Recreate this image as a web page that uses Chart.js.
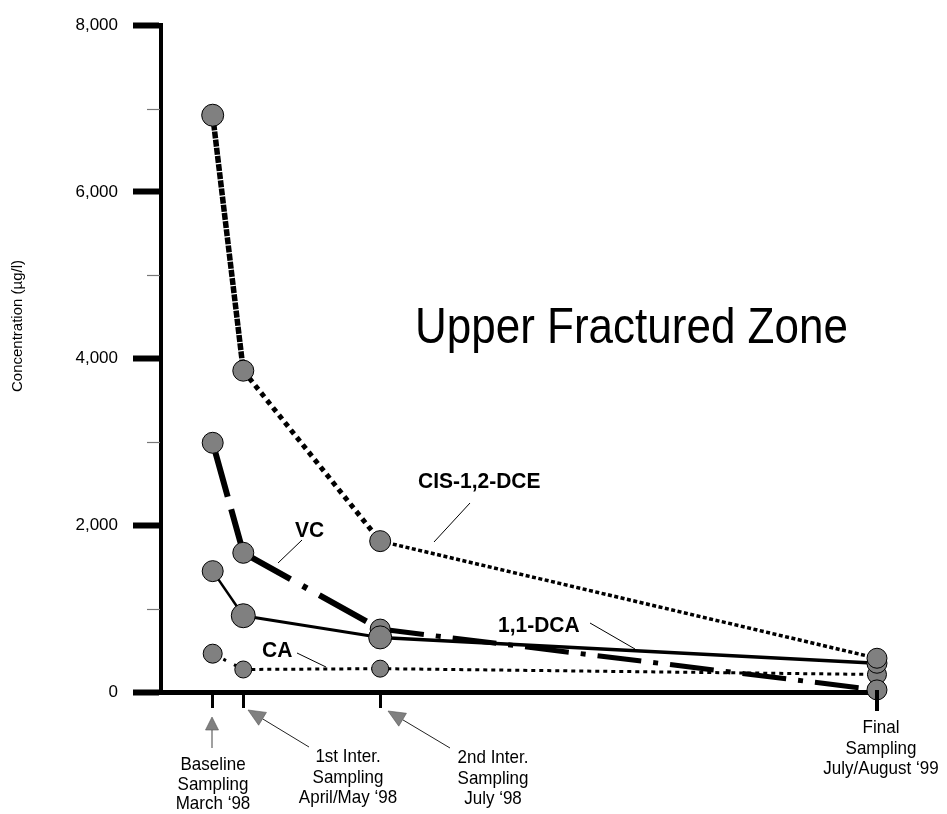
<!DOCTYPE html>
<html>
<head>
<meta charset="utf-8">
<script src="https://cdn.jsdelivr.net/npm/chart.js@4.4.1/dist/chart.umd.min.js"></script>
<style>
  html, body { margin: 0; padding: 0; background: #ffffff; }
  #wrap { width: 947px; height: 814px; position: relative; }
</style>
</head>
<body>
<div id="wrap"><canvas id="c" width="947" height="814"></canvas></div>
<script>
// ---- data ----
const samplingMonths = [2.5, 3.26, 6.66, 19.0];          // months after 1 Jan 1998
const samplingLabels = [
  ['Baseline', 'Sampling', 'March \u201898'],
  ['1st Inter.', 'Sampling', 'April/May \u201898'],
  ['2nd Inter.', 'Sampling', 'July \u201898'],
  ['Final', 'Sampling', 'July/August \u201899']
];
const seriesNames = ['CIS-1,2-DCE', 'VC', '1,1-DCA', 'CA'];
const cisDCE = [6920, 3855, 1810, 405];
const vc     = [2990, 1670, 755, 25];
const dca    = [1450, 915, 655, 345];
const ca     = [460, 270, 280, 210];
const yTickValues = [0, 2000, 4000, 6000, 8000];
const yTickLabels = ['0', '2,000', '4,000', '6,000', '8,000'];
const yMinorTicks = [1000, 3000, 5000, 7000];
const chartTitle = 'Upper Fractured Zone';
const yAxisTitle = 'Concentration (\u00b5g/l)';

const FONT = "'Liberation Sans', Arial, Helvetica, sans-serif";
Chart.defaults.font.family = FONT;

const pts = (vals) => samplingMonths.map((m, i) => ({ x: m, y: vals[i] }));
const MARK = '#808080';

const cisSeg = {
  borderDash: c => [[7, 1.2], [5, 4.5], [4, 2.5]][c.p0DataIndex],
  borderWidth: c => [5.5, 5, 3.5][c.p0DataIndex]
};
const vcSeg = {
  borderDash: c => [[56, 13], [54, 14, 5, 14], [44, 12, 5, 12]][c.p0DataIndex],
  borderWidth: c => [6, 6, 5][c.p0DataIndex]
};
const dcaSeg = {
  borderWidth: c => [2.5, 3, 3.5][c.p0DataIndex]
};
const caSeg = {
  borderDash: c => [[3, 9], [4, 4], [4, 4]][c.p0DataIndex],
  borderWidth: c => 3
};

const datasets = [
  { label: seriesNames[0], data: pts(cisDCE), borderColor: '#000', borderWidth: 5, segment: cisSeg,
    pointRadius: [11, 10.5, 10.5, 10] },
  { label: seriesNames[2], data: pts(dca), borderColor: '#000', borderWidth: 3, segment: dcaSeg,
    pointRadius: [10.5, 12, 11.5, 10] },
  { label: seriesNames[1], data: pts(vc), borderColor: '#000', borderWidth: 6, segment: vcSeg,
    pointRadius: [10.5, 10.5, 10, 10] },
  { label: seriesNames[3], data: pts(ca), borderColor: '#000', borderWidth: 3, segment: caSeg,
    pointRadius: [9.5, 8.5, 8.5, 9.5] }
].map(d => Object.assign(d, {
  pointBackgroundColor: MARK, pointBorderColor: '#000', pointBorderWidth: 1,
  pointHoverRadius: d.pointRadius, borderCapStyle: 'butt', tension: 0, fill: false, clip: false
}));

function arrow(ctx, tipX, tipY, tailX, tailY, headLen, halfW, stemColor, stemW) {
  const dx = tailX - tipX, dy = tailY - tipY, L = Math.hypot(dx, dy);
  const ux = dx / L, uy = dy / L;
  const bx = tipX + ux * headLen, by = tipY + uy * headLen;
  ctx.strokeStyle = stemColor; ctx.lineWidth = stemW;
  ctx.beginPath(); ctx.moveTo(bx, by); ctx.lineTo(tailX, tailY); ctx.stroke();
  ctx.fillStyle = MARK; ctx.strokeStyle = '#555'; ctx.lineWidth = 0.6;
  ctx.beginPath();
  ctx.moveTo(tipX, tipY);
  ctx.lineTo(bx - uy * halfW, by + ux * halfW);
  ctx.lineTo(bx + uy * halfW, by - ux * halfW);
  ctx.closePath(); ctx.fill(); ctx.stroke();
}

function text(ctx, t, x, y, sy) {
  ctx.save(); ctx.translate(x, y); ctx.scale(1, sy); ctx.fillText(t, 0, 0); ctx.restore();
}

const annotations = {
  id: 'annotations',
  afterDraw(chart) {
    const { ctx } = chart;
    const x = chart.scales.x, y = chart.scales.y;
    ctx.save();
    // minor y ticks
    ctx.strokeStyle = '#777'; ctx.lineWidth = 1.2;
    yMinorTicks.forEach(v => {
      const py = Math.round(y.getPixelForValue(v)) + 0.5;
      ctx.beginPath(); ctx.moveTo(y.right - 14, py); ctx.lineTo(y.right - 1, py); ctx.stroke();
    });
    // longer final tick
    const fx = x.getPixelForValue(samplingMonths[3]);
    ctx.strokeStyle = '#000'; ctx.lineWidth = 4;
    ctx.beginPath(); ctx.moveTo(fx, x.top - 2); ctx.lineTo(fx, x.top + 19); ctx.stroke();

    // y axis title
    ctx.fillStyle = '#000';
    ctx.font = '15px ' + FONT;
    ctx.textAlign = 'center'; ctx.textBaseline = 'middle';
    ctx.save(); ctx.translate(18, 326); ctx.rotate(-Math.PI / 2); ctx.fillText(yAxisTitle, 0, 0); ctx.restore();

    // big title
    ctx.font = '44px ' + FONT;
    ctx.textAlign = 'left'; ctx.textBaseline = 'alphabetic';
    text(ctx, chartTitle, 415, 343, 1.15);

    // series labels + leader lines
    ctx.font = 'bold 21px ' + FONT;
    const lab = [
      [seriesNames[0], 418, 488, 470, 503, 434, 542],
      [seriesNames[1], 295, 537, 302, 540, 278, 563],
      [seriesNames[2], 498, 632, 590, 623, 635, 649],
      [seriesNames[3], 262, 657, 297, 653, 326, 667]
    ];
    lab.forEach(([t, tx, ty, x1, y1, x2, y2]) => {
      ctx.fillStyle = '#000';
      text(ctx, t, tx, ty, 1.08);
      ctx.strokeStyle = '#000'; ctx.lineWidth = 1;
      ctx.beginPath(); ctx.moveTo(x1, y1); ctx.lineTo(x2, y2); ctx.stroke();
    });

    // sampling annotations
    arrow(ctx, 212, 717, 212, 748, 13, 6.5, MARK, 1.5);
    arrow(ctx, 248, 710, 309, 747, 17, 7.5, '#222', 1);
    arrow(ctx, 388, 711, 450, 748, 17, 7.5, '#222', 1);
    ctx.fillStyle = '#000';
    ctx.font = '17px ' + FONT;
    ctx.textAlign = 'center';
    const txt = [
      [213, 770, 19.5],
      [348, 762, 20.5],
      [493, 763, 20.5],
      [881, 733, 20.5]
    ];
    samplingLabels.forEach((lines, i) => {
      const [cx, by, lh] = txt[i];
      lines.forEach((l, j) => text(ctx, l, cx, by + j * lh, 1.08));
    });
    ctx.restore();
  }
};

new Chart(document.getElementById('c'), {
  type: 'line',
  data: { datasets },
  options: {
    responsive: false,
    animation: false,
    devicePixelRatio: 1,
    layout: { padding: { top: 20, right: 67, left: 0, bottom: 0 } },
    plugins: { legend: { display: false }, tooltip: { enabled: false } },
    events: [],
    scales: {
      x: {
        type: 'linear', position: 'bottom', min: 1.216, max: 19.075,
        afterBuildTicks: s => { s.ticks = samplingMonths.map(v => ({ value: v })); },
        afterFit: s => { s.height = 122; },
        ticks: { display: false },
        grid: { drawOnChartArea: false, drawTicks: true, tickLength: 16, tickWidth: 3, tickColor: '#000' },
        border: { display: true, width: 5, color: '#000' }
      },
      y: {
        type: 'linear', position: 'left', min: 0, max: 8000,
        afterBuildTicks: s => { s.ticks = [...yTickValues, ...yMinorTicks].sort((a, b) => a - b).map(v => ({ value: v })); },
        afterFit: s => { s.width = 161; },
        ticks: {
          autoSkip: false, color: '#000', padding: 15, font: { size: 17, family: FONT },
          callback: v => { const i = yTickValues.indexOf(v); return i >= 0 ? yTickLabels[i] : ''; }
        },
        grid: {
          drawOnChartArea: false, drawTicks: true, tickLength: 28,
          tickWidth: c => (c.tick && yTickValues.includes(c.tick.value)) ? 6 : 0,
          tickColor: c => (c.tick && yTickValues.includes(c.tick.value)) ? '#000' : 'rgba(0,0,0,0)'
        },
        border: { display: true, width: 4, color: '#000' }
      }
    }
  },
  plugins: [annotations]
});
</script>
</body>
</html>
